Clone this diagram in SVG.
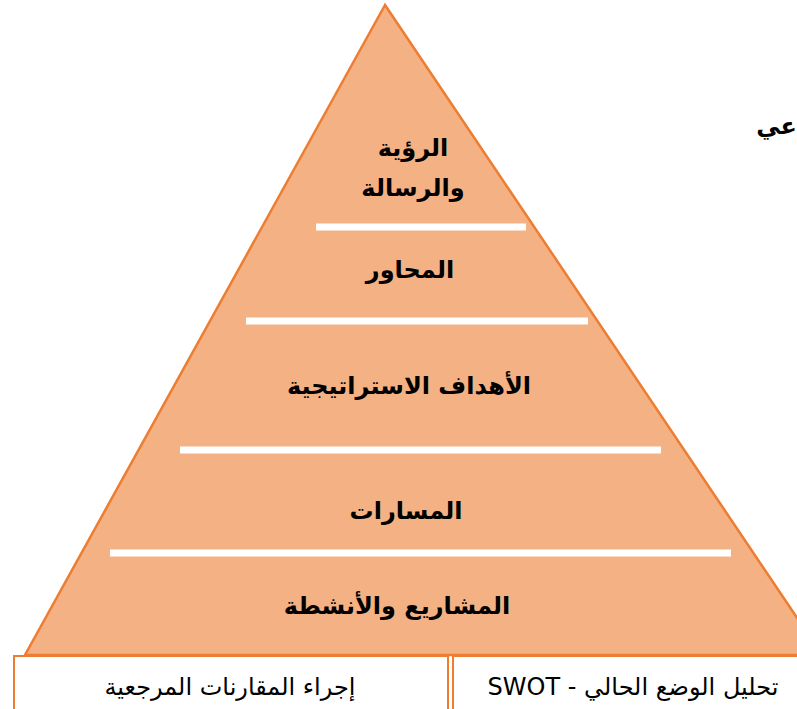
<svg xmlns="http://www.w3.org/2000/svg" width="797" height="709" viewBox="0 0 797 709">
<style>
.lvl{font-family:"DejaVu Sans","Noto Sans",sans-serif;font-weight:bold;font-size:24px;fill:#000;text-anchor:middle;direction:rtl}
.box{fill:#fff;stroke:#ED7D31;stroke-width:2}
.btx{font-family:"DejaVu Sans","Noto Sans",sans-serif;font-size:24px;fill:#000;text-anchor:middle;direction:rtl}
.sep{stroke:#fff;stroke-width:7}
</style>
<g id="pyramid">
<polygon points="385,5 25,655 822,655" fill="#F4B183" stroke="#ED7D31" stroke-width="2.5"/>
</g>
<g id="separators">
<line class="sep" x1="316" y1="227" x2="526" y2="227"/>
<line class="sep" x1="246" y1="321" x2="588" y2="321"/>
<line class="sep" x1="180" y1="450" x2="661" y2="450"/>
<line class="sep" x1="110" y1="553" x2="731" y2="553"/>
</g>
<g id="level1"><text class="lvl" x="413" y="156" direction="rtl">الرؤية</text><text class="lvl" x="413" y="196" direction="rtl">والرسالة</text></g>
<g id="level2"><text class="lvl" x="410" y="278" direction="rtl">المحاور</text></g>
<g id="level3"><text class="lvl" x="409" y="394" direction="rtl">الأهداف الاستراتيجية</text></g>
<g id="level4"><text class="lvl" x="406" y="519" direction="rtl">المسارات</text></g>
<g id="level5"><text class="lvl" x="397" y="614" direction="rtl">المشاريع والأنشطة</text></g>
<g id="clipped"><text class="lvl" x="797" y="134" direction="rtl" style="text-anchor:start">عي</text></g>
<g id="box1"><rect class="box" x="14" y="656" width="434" height="60"/><text class="btx" x="230" y="695" direction="rtl">إجراء المقارنات المرجعية</text></g>
<g id="box2"><rect class="box" x="453" y="656" width="360" height="60"/><text class="btx" x="633" y="695" direction="rtl">تحليل الوضع الحالي - SWOT</text></g>
</svg>
